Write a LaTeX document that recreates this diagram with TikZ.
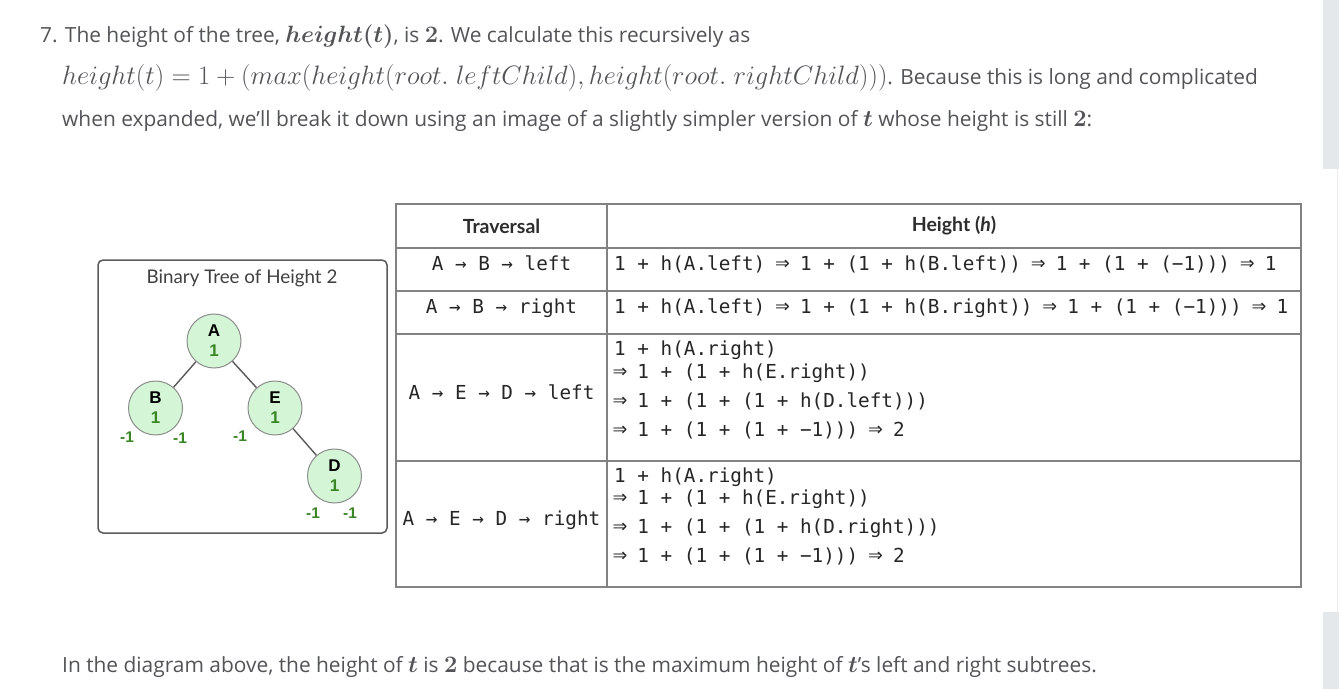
\RequirePackage{fix-cm}
\documentclass[tikz,border=0pt]{standalone}
\usepackage{amsmath}
\usepackage[no-math]{fontspec}
\setmainfont{Open Sans}
\newfontfamily\latofont{Lato}
\newfontfamily\monofont{DejaVu Sans Mono}
\newfontfamily\arialfont{Liberation Sans}
\definecolor{bodytext}{RGB}{82,84,88}
\definecolor{tblline}{RGB}{130,130,130}
\definecolor{hdrtext}{RGB}{45,45,45}
\definecolor{nodefill}{RGB}{212,246,214}
\definecolor{nodeline}{RGB}{140,140,140}
\definecolor{numgreen}{RGB}{58,134,36}
\definecolor{boxline}{RGB}{90,90,90}
\definecolor{scroll}{RGB}{229,232,234}
\newcommand\mth[1]{{\fontsize{23.6}{29}\selectfont$#1$}}
\newcommand\mthb[1]{{\fontsize{26.6}{30}\selectfont$#1$}}
\newcommand\darr{\makebox[11.62pt]{\fontsize{24}{22}\selectfont ⇒}}
\tikzset{
  bodyline/.style={anchor=base west, inner sep=0, text=bodytext, font=\fontsize{20.9}{25}\selectfont},
  tblrule/.style={draw=tblline, line width=1.3pt},
  hdr/.style={inner sep=0, text=hdrtext, font=\latofont\bfseries\fontsize{19.5}{22}\selectfont},
  cell/.style={anchor=mid west, inner sep=0, text=black!85, font=\monofont\fontsize{19.3}{22}\selectfont},
  trav/.style={anchor=mid, inner sep=0, text=black!85, font=\monofont\fontsize{19.3}{22}\selectfont},
  treebox/.style={draw=boxline, line width=1.5pt, rounded corners=5pt, fill=white},
  boxtitle/.style={inner sep=0, text=black!75, font=\latofont\fontsize{18.8}{22}\selectfont},
  tnode/.style={circle, draw=nodeline, fill=nodefill, line width=1pt, minimum size=54pt, inner sep=0, align=center, font=\arialfont\bfseries\fontsize{17}{20}\selectfont},
  edge/.style={draw=black!65, line width=1.4pt},
  neg/.style={inner sep=0, text=numgreen, font=\arialfont\bfseries\fontsize{15.5}{17}\selectfont},
}
\begin{document}
\begin{tikzpicture}[x=1pt,y=-1pt]
\useasboundingbox[fill=white] (0,0) rectangle (1339,689);
% scrollbar
\fill[scroll] (1323,0) rectangle (1339,169);
\fill[scroll] (1323,612) rectangle (1339,689);
\draw[black!8, line width=0.8pt] (1337,169) -- (1337,612);
% paragraph text
\node[bodyline] (l1) at (40,42) {7. The height of the tree, \mth{\boldsymbol{height(t)}}, is \mth{\boldsymbol{2}}. We calculate this recursively as};
\node[bodyline] (l2) at (62,84) {\mthb{height(t) = 1 + (max(height(root.\;leftChild), height(root.\;rightChild)))}. Because this is long and complicated};
\node[bodyline] (l3) at (62,126) {when expanded, we'll break it down using an image of a slightly simpler version of \mth{\boldsymbol{t}} whose height is still \mth{\boldsymbol{2}}:};
\node[bodyline] (l4) at (62,672) {In the diagram above, the height of \mth{\boldsymbol{t}} is \mth{\boldsymbol{2}} because that is the maximum height of \mth{\boldsymbol{t}}'s left and right subtrees.};
% table
\draw[tblrule] (396,204) rectangle (1301,587);
\draw[tblrule] (607,204) -- (607,587);
\foreach \yy in {248,291,334,461} \draw[tblrule] (396,\yy) -- (1301,\yy);
\node[hdr] (h1) at (501.5,226) {Traversal};
\node[hdr] (h2) at (954,226) {Height ({\itshape h})};
\node[trav] (t1) at (501.5,268) {A → B → left};
\node[trav] (t2) at (501.5,311) {A → B → right};
\node[trav] (t3) at (501.5,397) {A → E → D → left};
\node[trav] (t4) at (501.5,523) {A → E → D → right};
\node[cell] (c1) at (614,268) {1 + h(A.left) \darr{} 1 + (1 + h(B.left)) \darr{} 1 + (1 + (−1))) \darr{} 1};
\node[cell] (c2) at (614,311) {1 + h(A.left) \darr{} 1 + (1 + h(B.right)) \darr{} 1 + (1 + (−1))) \darr{} 1};
\node[cell] (c3a) at (614,353) {1 + h(A.right)};
\node[cell] (c3b) at (614,376) {\darr{} 1 + (1 + h(E.right))};
\node[cell] (c3c) at (614,405) {\darr{} 1 + (1 + (1 + h(D.left)))};
\node[cell] (c3d) at (614,434) {\darr{} 1 + (1 + (1 + −1))) \darr{} 2};
\node[cell] (c4a) at (614,480) {1 + h(A.right)};
\node[cell] (c4b) at (614,502) {\darr{} 1 + (1 + h(E.right))};
\node[cell] (c4c) at (614,531) {\darr{} 1 + (1 + (1 + h(D.right)))};
\node[cell] (c4d) at (614,560) {\darr{} 1 + (1 + (1 + −1))) \darr{} 2};
% tree box
\draw[treebox] (98,260) rectangle (387,533);
\node[boxtitle] (bt) at (242,278) {Binary Tree of Height 2};
\node[tnode] (A) at (214,341) {A\\\textcolor{numgreen}{1}};
\node[tnode] (B) at (155.5,408) {B\\\textcolor{numgreen}{1}};
\node[tnode] (E) at (275,408) {E\\\textcolor{numgreen}{1}};
\node[tnode] (D) at (334.5,476) {D\\\textcolor{numgreen}{1}};
\draw[edge] (A) -- (B);
\draw[edge] (A) -- (E);
\draw[edge] (E) -- (D);
\node[neg] (bl) at (127,437) {-1};
\node[neg] (br) at (180,438) {-1};
\node[neg] (el) at (240,436) {-1};
\node[neg] (dl) at (313,513) {-1};
\node[neg] (dr) at (350,513) {-1};
\end{tikzpicture}
\end{document}
